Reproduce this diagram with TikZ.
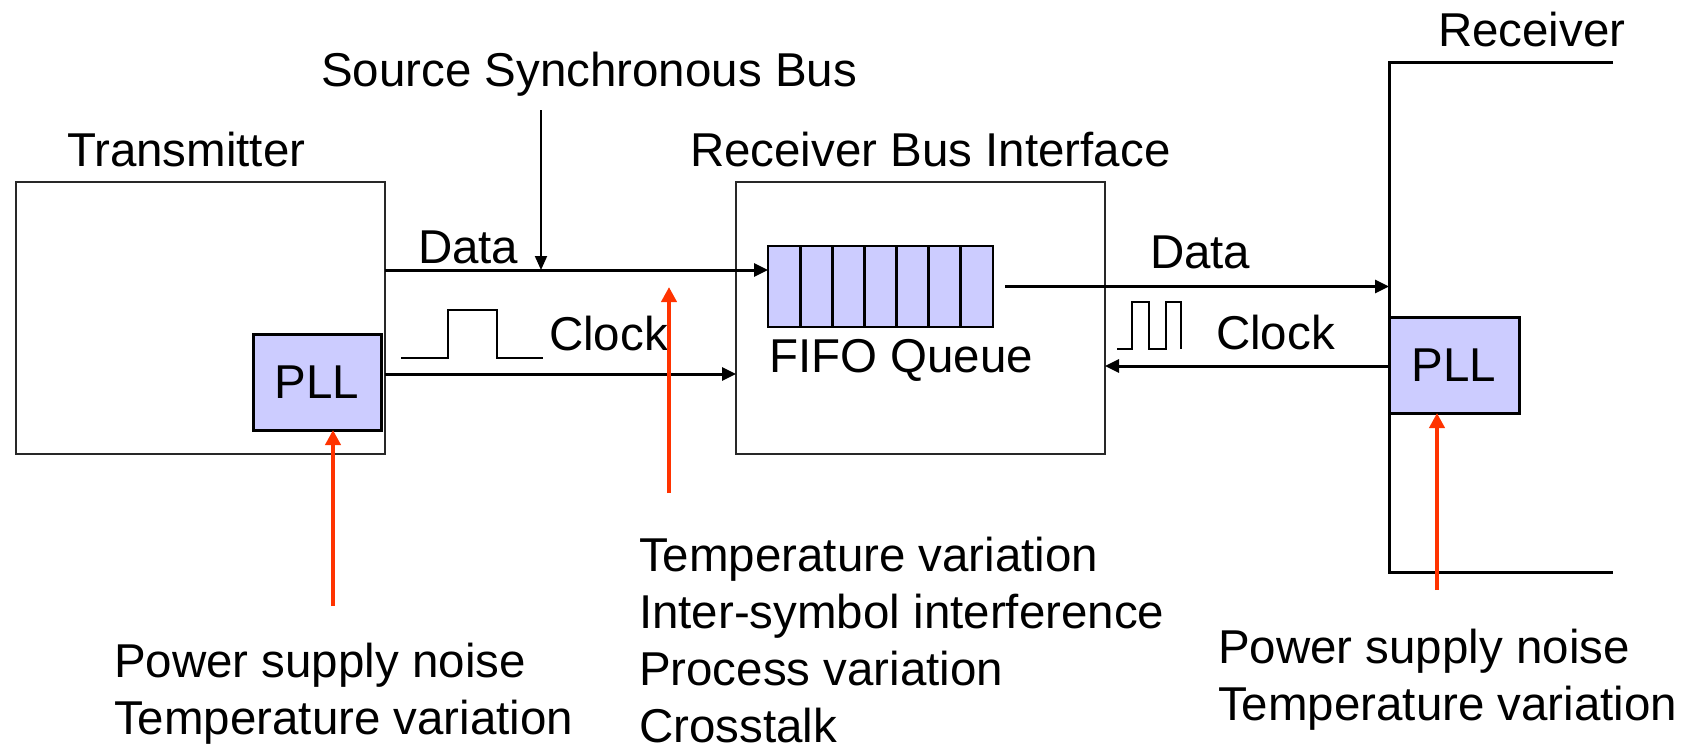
\documentclass[tikz,border=0pt]{standalone}
\usepackage{fontspec}
\setmainfont{Liberation Sans}
\usetikzlibrary{arrows.meta}
\definecolor{pllfill}{RGB}{204,204,255}
\definecolor{noisered}{RGB}{255,51,0}
\definecolor{boxgray}{RGB}{40,40,40}

\begin{document}
\begin{tikzpicture}[x=1pt,y=-1pt,
  every node/.style={inner sep=0pt, outer sep=0pt, font=\fontsize{47.5}{57}\selectfont},
  block/.style={draw=boxgray, line width=2pt, anchor=north west, minimum width=369pt, minimum height=272pt},
  pll/.style={draw=black, line width=3pt, fill=pllfill, anchor=north west},
  sig/.style={line width=3pt, -{Triangle[length=14pt,width=13pt]}},
  noise/.style={draw=noisered, line width=4pt, -{Triangle[length=15pt,width=15pt]}},
  txt/.style={anchor=base west, align=left},
  wave/.style={line width=2.8pt, line join=miter}]

\useasboundingbox (0,0) rectangle (1690,747);

% blocks
\node[block] (tx) at (16,182) {};
\node[block] (rbi) at (736,182) {};
\node[pll, minimum width=128pt, minimum height=96pt] (txpll) at (253,334) {PLL};

% FIFO queue with seven cells
\node[draw=black, line width=2.5pt, fill=pllfill, anchor=north west,
      minimum width=225pt, minimum height=81pt] (fifo) at (768,246) {};
\foreach \i in {1,...,6}
  \draw[line width=3pt] ([xshift=\i*32.14pt]fifo.north west) -- ([xshift=\i*32.14pt]fifo.south west);

% receiver outline
\coordinate (rxtr) at (1613,62);
\coordinate (rxtl) at (1389,62);
\coordinate (rxbl) at (1389,572);
\coordinate (rxbr) at (1613,572);
\draw[line width=3pt] (rxtr) -- (rxtl) -- (rxbl) -- (rxbr);
\node[pll, minimum width=130pt, minimum height=96pt] (rxpll) at (1389,317) {PLL};

% titles
\node[txt] (tsrc) at (321,86) {Source Synchronous Bus};
\node[txt] (ttx) at (67,166) {Transmitter};
\node[txt] (trbi) at (690,166) {Receiver Bus Interface};
\node[txt] (trx) at (1438,46) {Receiver};

% signal labels
\node[txt] (ldata1) at (418,263) {Data};
\node[txt] (lclk1) at (549,350) {Clock};
\node[txt] (ldata2) at (1150,268) {Data};
\node[txt] (lclk2) at (1216,349) {Clock};
\node[txt] (lfifo) at (769,372) {FIFO Queue};

% rows of the bus lines
\coordinate (rowD) at (0,270);
\coordinate (rowC) at (0,374);
\coordinate (rowR) at (0,366);

% bus connections
\draw[sig] (tx.east |- rowD) -- (fifo.west |- rowD);
\draw[sig] (tx.east |- rowC) -- (rbi.west |- rowC);
\draw[sig] ([xshift=12pt]fifo.east) -- (rxtl |- fifo.east);
\draw[sig] (rxpll.west |- rowR) -- (rbi.east |- rowR);

% bus pointer
\coordinate (srcdrop) at (541,110);
\draw[line width=2pt, -{Triangle[length=14pt,width=12pt]}] (srcdrop) -- (srcdrop |- rowD);

% clock waveforms
\draw[wave] (401,358) -- (448,358) -- (448,310) -- (497,310) -- (497,358) -- (543,358);
\draw[wave] (1117,349) -- (1132,349) -- (1132,302) -- (1149,302) -- (1149,349)
            -- (1166,349) -- (1166,302) -- (1181,302) -- (1181,349);

% noise sources
\coordinate (n1) at (333,606);
\coordinate (n2) at (669,493);
\coordinate (n2t) at (669,287);
\coordinate (n3) at (1437,590);
\draw[noise] (n1) -- (n1 |- txpll.south);
\draw[noise] (n2) -- (n2t);
\draw[noise] (n3) -- (n3 |- rxpll.south);

% multi-line labels, placed by the baseline of their last line
\node[txt] (nl) at (114,734) {Power supply noise\\Temperature variation};
\node[txt] (nm) at (639,742) {Temperature variation\\Inter-symbol interference\\Process variation\\Crosstalk};
\node[txt] (nr) at (1218,720) {Power supply noise\\Temperature variation};
\end{tikzpicture}
\end{document}
